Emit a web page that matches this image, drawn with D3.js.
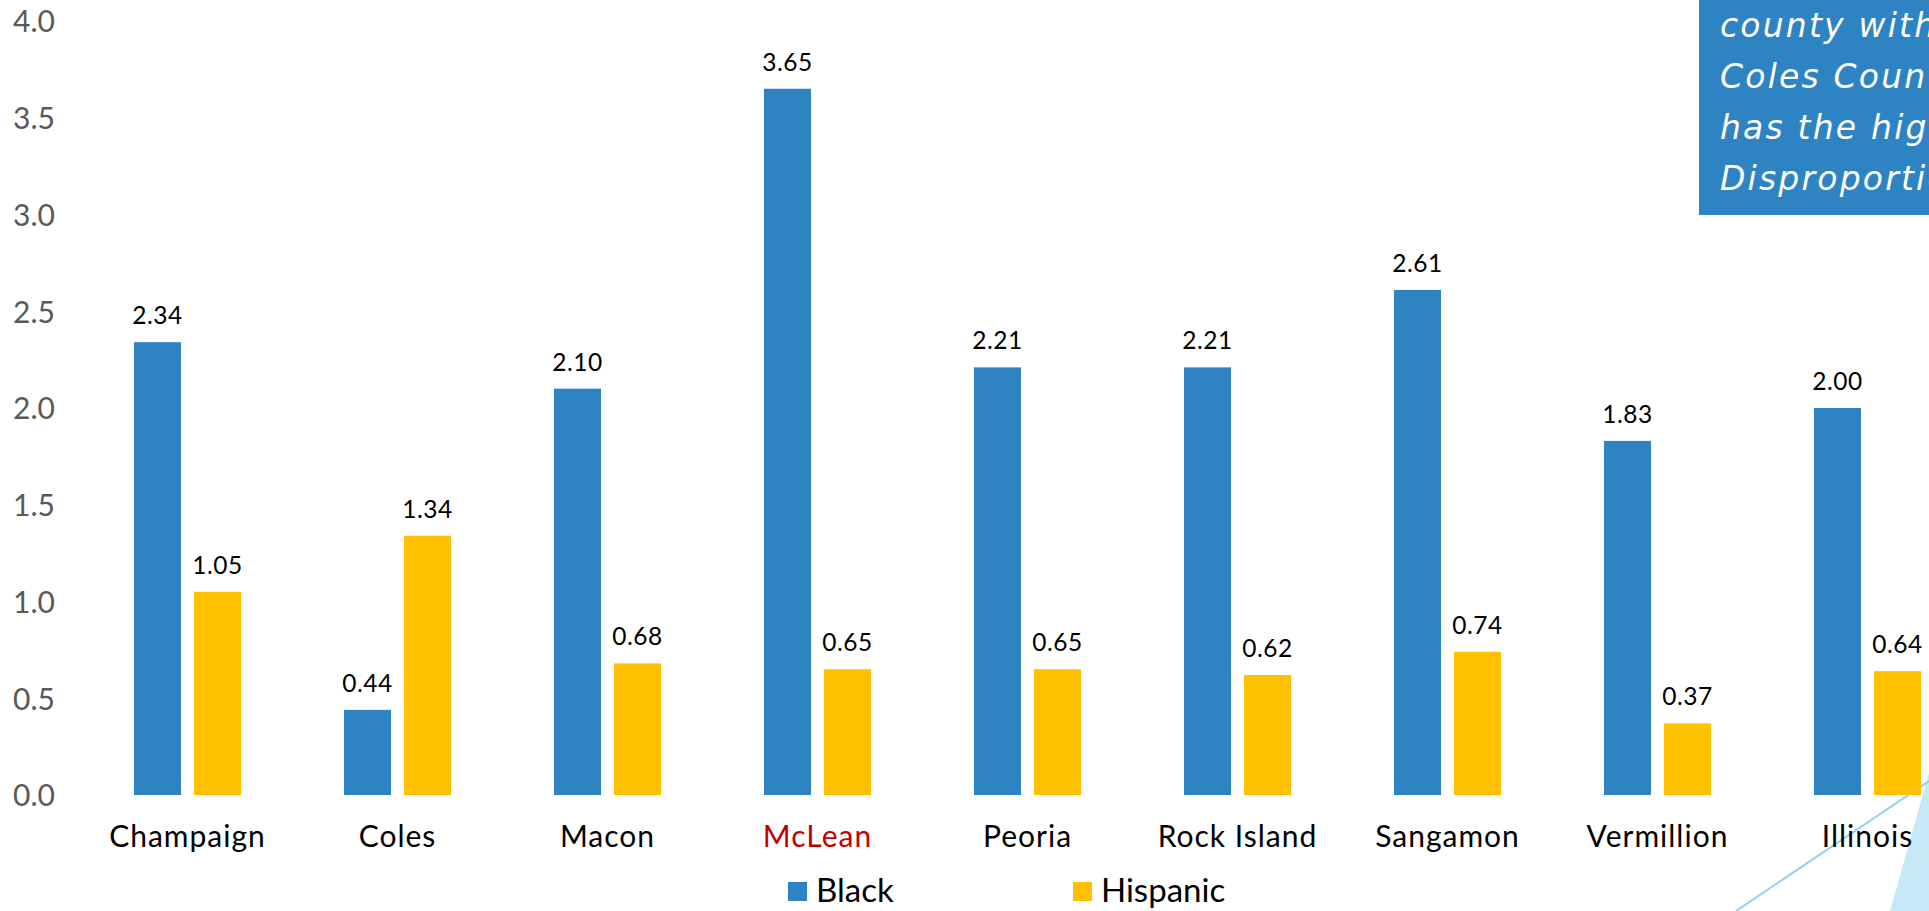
<!DOCTYPE html>
<html>
<head>
<meta charset="utf-8">
<script src="https://cdn.jsdelivr.net/npm/d3@7"></script>
<style>
  html, body { margin: 0; padding: 0; background: #ffffff; overflow: hidden; }
  svg { display: block; font-family: Lato, "Open Sans", sans-serif; }
</style>
</head>
<body>
<svg id="chart" width="1929" height="911"></svg>
<script>
// ---- data ----
const categories = ["Champaign", "Coles", "Macon", "McLean", "Peoria", "Rock Island", "Sangamon", "Vermillion", "Illinois"];
const seriesNames = ["Black", "Hispanic"];
const blackValues = [2.34, 0.44, 2.10, 3.65, 2.21, 2.21, 2.61, 1.83, 2.00];
const hispanicValues = [1.05, 1.34, 0.68, 0.65, 0.65, 0.62, 0.74, 0.37, 0.64];
const yTicks = [0, 0.5, 1.0, 1.5, 2.0, 2.5, 3.0, 3.5, 4.0];
const highlightCategory = "McLean";
const noteLines = ["county with the highest", "Coles County", "has the highest Hispanic", "Disproportionality"];

const colors = { Black: "#2E83C3", Hispanic: "#FFC000" };
const seriesValues = { Black: blackValues, Hispanic: hispanicValues };

const svg = d3.select("#chart");

// ---- scales ----
const x0 = d3.scaleBand().domain(categories).range([82.5, 1972.5]).padding(0);
const groupWidth = 107;
const x1 = d3.scaleBand().domain(seriesNames).range([0, groupWidth]).paddingInner(0.2167).paddingOuter(0);
const y = d3.scaleLinear().domain([0, 4]).range([795, 21]);

// ---- decoration (bottom-right) ----
svg.append("polygon")
  .attr("points", "1890,911 1929,773 1929,911 ")
  .attr("fill", "#C6E9F7");
svg.append("line")
  .attr("x1", 1736).attr("y1", 911).attr("x2", 1929).attr("y2", 781)
  .attr("stroke", "#8DD3F0").attr("stroke-width", 2);

// ---- y axis ----
const yAxis = d3.axisLeft(y).tickValues(yTicks).tickFormat(d3.format(".1f")).tickSize(0).tickPadding(0);
const gy = svg.append("g").attr("transform", "translate(55,0)").call(yAxis);
gy.select(".domain").remove();
gy.selectAll("text")
  .attr("fill", "#595959")
  .attr("font-family", "Lato, sans-serif")
  .attr("font-size", 30)
  .attr("dy", "0.36em");

// ---- bars ----
const groups = svg.append("g").selectAll("g")
  .data(categories)
  .join("g")
  .attr("transform", d => `translate(${x0(d) + (x0.bandwidth() - groupWidth) / 2},0)`);

groups.selectAll("rect")
  .data((c, i) => seriesNames.map(s => ({ s, v: seriesValues[s][i] })))
  .join("rect")
  .attr("x", d => x1(d.s))
  .attr("width", x1.bandwidth())
  .attr("y", d => y(d.v))
  .attr("height", d => y(0) - y(d.v))
  .attr("fill", d => colors[d.s]);

groups.selectAll("text.val")
  .data((c, i) => seriesNames.map(s => ({ s, v: seriesValues[s][i] })))
  .join("text")
  .attr("class", "val")
  .attr("x", d => x1(d.s) + x1.bandwidth() / 2)
  .attr("y", d => y(d.v) - 18)
  .attr("text-anchor", "middle")
  .attr("font-size", 24.5)
  .attr("letter-spacing", 0.5)
  .attr("fill", "#000000")
  .text(d => d3.format(".2f")(d.v));

// ---- category labels ----
svg.append("g").selectAll("text")
  .data(categories)
  .join("text")
  .attr("x", d => x0(d) + x0.bandwidth() / 2)
  .attr("y", 847)
  .attr("text-anchor", "middle")
  .attr("font-size", 30)
  .attr("letter-spacing", 1)
  .attr("fill", d => d === highlightCategory ? "#C00000" : "#000000")
  .text(d => d);

// ---- legend ----
const legendPos = { Black: 788, Hispanic: 1073 };
const lg = svg.append("g").selectAll("g").data(seriesNames).join("g")
  .attr("transform", d => `translate(${legendPos[d]},0)`);
lg.append("rect").attr("x", 0).attr("y", 882).attr("width", 19).attr("height", 19)
  .attr("fill", d => colors[d]);
lg.append("text").attr("x", 28).attr("y", 902).attr("font-size", 33).attr("fill", "#000000")
  .text(d => d);

// ---- note box (top-right) ----
svg.append("rect").attr("x", 1699).attr("y", -10).attr("width", 260).attr("height", 225)
  .attr("fill", "#2E83C3");
svg.append("g").selectAll("text").data(noteLines).join("text")
  .attr("x", 1720)
  .attr("y", (d, i) => 37 + i * 51)
  .attr("font-family", "'DejaVu Sans', sans-serif")
  .attr("font-size", 33)
  .attr("font-style", "italic")
  .attr("letter-spacing", 2.2)
  .attr("fill", "#ffffff")
  .text(d => d);
</script>
</body>
</html>
